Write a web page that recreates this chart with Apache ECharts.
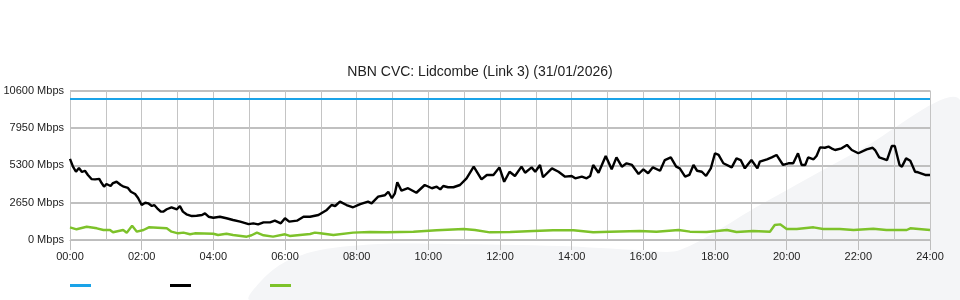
<!DOCTYPE html>
<html>
<head>
<meta charset="utf-8">
<script src="https://cdn.jsdelivr.net/npm/echarts@6/dist/echarts.min.js"></script>
<style>html,body{margin:0;padding:0;background:#fff}#c{width:960px;height:300px}</style>
</head>
<body>
<div id="c"></div>
<script>
// Title and tick labels
var chartTitle = 'NBN CVC: Lidcombe (Link 3) (31/01/2026)';
var yTicks = [0, 2650, 5300, 7950, 10600];
var xTickLabels = ['00:00','02:00','04:00','06:00','08:00','10:00','12:00','14:00','16:00','18:00','20:00','22:00','24:00'];

// Capacity (Mbps)
var capTimes = [0, 1440];
var capValues = [10000, 10000];

// Black series: minutes after midnight, Mbps
var dlTimes = [0,5,10,15,20,25,30,36,42,49,53,57,61,68,72,78,85,90,97,102,109,114,120,126,131,137,141,146,152,156,162,170,179,184,189,195,204,212,221,226,232,240,251,262,273,285,299,307,315,324,335,343,353,360,367,380,391,402,416,419,430,438,444,452,463,474,486,499,505,516,527,533,539,544,548,555,566,580,594,606,614,620,625,633,642,653,664,676,689,698,709,719,727,736,745,756,762,773,779,787,792,807,818,829,840,846,857,865,871,876,885,897,907,915,924,932,941,952,960,968,976,988,996,1006,1015,1021,1030,1037,1044,1050,1058,1065,1073,1080,1086,1094,1108,1116,1123,1130,1141,1151,1155,1167,1175,1183,1194,1203,1211,1219,1225,1231,1236,1245,1250,1256,1264,1270,1275,1281,1292,1301,1309,1320,1334,1344,1348,1355,1368,1376,1381,1389,1393,1400,1407,1415,1420,1432,1440];
var dlValues = [5750,5200,4840,5100,4820,4910,4610,4320,4300,4330,4040,3780,3970,3830,4040,4130,3900,3780,3690,3420,3260,2980,2480,2640,2600,2410,2480,2250,2010,2010,2180,2320,2180,2410,2010,1820,1700,1720,1770,1890,1650,1580,1650,1540,1420,1300,1130,1180,1110,1250,1250,1370,1180,1540,1300,1370,1650,1650,1770,1820,2130,2480,2410,2720,2480,2320,2550,2720,2600,3070,3170,3420,2960,3310,4090,3500,3670,3350,3900,3670,3780,3590,3830,3740,3740,3900,4370,5200,4300,4610,4610,5150,4130,4840,4540,5200,4770,5150,4840,5320,4450,5080,4840,4490,4540,4370,4490,4370,4540,5320,4770,5960,5010,5860,5200,5440,5320,4680,5010,4730,5150,4910,5670,5860,5200,5080,4490,4610,5320,4910,4840,4540,5080,6150,6030,5440,5150,5790,5670,5080,5670,5080,5550,5720,5860,6030,5320,5440,5440,6150,5320,5320,5860,5720,5960,6570,6540,6620,6500,6380,6500,6740,6380,6150,6430,6540,6380,5860,5670,6660,6660,5320,5200,5790,5620,4840,4800,4610,4610];

// Green series: minutes after midnight, Mbps
var ulTimes = [0,11,28,45,56,67,72,89,95,104,112,123,132,162,170,181,190,201,209,240,248,262,273,296,304,313,324,340,360,368,402,410,419,441,474,502,530,575,614,659,678,703,737,776,809,843,876,904,954,982,1019,1038,1066,1100,1116,1144,1172,1180,1189,1200,1217,1245,1261,1289,1312,1345,1367,1401,1407,1440];
var ulValues = [900,760,940,830,710,710,550,710,520,1010,590,710,900,830,590,475,520,405,475,445,355,445,355,235,335,520,335,235,405,285,425,520,475,355,520,565,545,590,690,780,710,545,565,640,690,690,545,590,640,590,710,590,565,710,565,640,590,1060,1110,780,780,900,780,780,710,800,710,710,830,710];

function pairs(t, v) { return t.map(function (x, i) { return [x, v[i]]; }); }

var chart = echarts.init(document.getElementById('c'), null, {renderer: 'canvas'});
var FONT = 'Liberation Sans, Arial, sans-serif';
chart.setOption({
  animation: false,
  backgroundColor: '#ffffff',
  graphic: [{
    type: 'polygon', z: -10, silent: true,
    shape: {points: [[250,300],[262,280],[285,262],[320,250],[380,244],[450,244],[560,246],[640,250],[680,250],[760,205],[860,150],[960,100],[960,300]], smooth: 0.3},
    style: {fill: '#f4f5f7'}
  }],
  title: {
    text: chartTitle, left: 'center', top: 60,
    textStyle: {fontFamily: FONT, fontSize: 14, fontWeight: 'normal', color: '#222'}
  },
  legend: {
    left: 65, top: 279, itemWidth: 21, itemHeight: 3, itemGap: 79, icon: 'rect',
    formatter: function () { return ''; },
    data: ['Capacity', 'Download', 'Upload']
  },
  grid: {left: 70, right: 30, top: 90.5, bottom: 60, containLabel: false},
  xAxis: {
    type: 'value', min: 0, max: 1440, interval: 120,
    axisLine: {show: true, lineStyle: {color: '#bdbdbd', width: 1}},
    axisTick: {show: true, length: 10, lineStyle: {color: '#bdbdbd'}},
    axisLabel: {
      fontFamily: FONT, fontSize: 11, color: '#222', margin: 11,
      formatter: function (v) { return xTickLabels[Math.round(v / 120)]; }
    },
    splitLine: {show: true, lineStyle: {color: '#c4c4c4', width: 1}},
    minorTick: {show: false, splitNumber: 2},
    minorSplitLine: {show: true, lineStyle: {color: '#c4c4c4', width: 1}}
  },
  yAxis: {
    type: 'value', min: yTicks[0], max: yTicks[yTicks.length - 1], interval: yTicks[1] - yTicks[0],
    axisLine: {show: false}, axisTick: {show: false},
    axisLabel: {fontFamily: FONT, fontSize: 11, color: '#222', margin: 6, verticalAlign: 'middle', padding: [0, 0, 4, 0],
      formatter: function (v) { return v + ' Mbps'; }},
    splitLine: {show: true, lineStyle: {color: '#c0c0c0', width: 2}}
  },
  series: [
    {name: 'Capacity', type: 'line', data: pairs(capTimes, capValues), showSymbol: false,
      lineStyle: {color: '#1aa3e8', width: 2}, itemStyle: {color: '#1aa3e8'}},
    {name: 'Download', type: 'line', data: pairs(dlTimes, dlValues), showSymbol: false,
      lineStyle: {color: '#000000', width: 2.4}, itemStyle: {color: '#000000'}},
    {name: 'Upload', type: 'line', data: pairs(ulTimes, ulValues), showSymbol: false,
      lineStyle: {color: '#7dc22a', width: 2.4}, itemStyle: {color: '#7dc22a'}}
  ]
});
</script>
</body>
</html>
